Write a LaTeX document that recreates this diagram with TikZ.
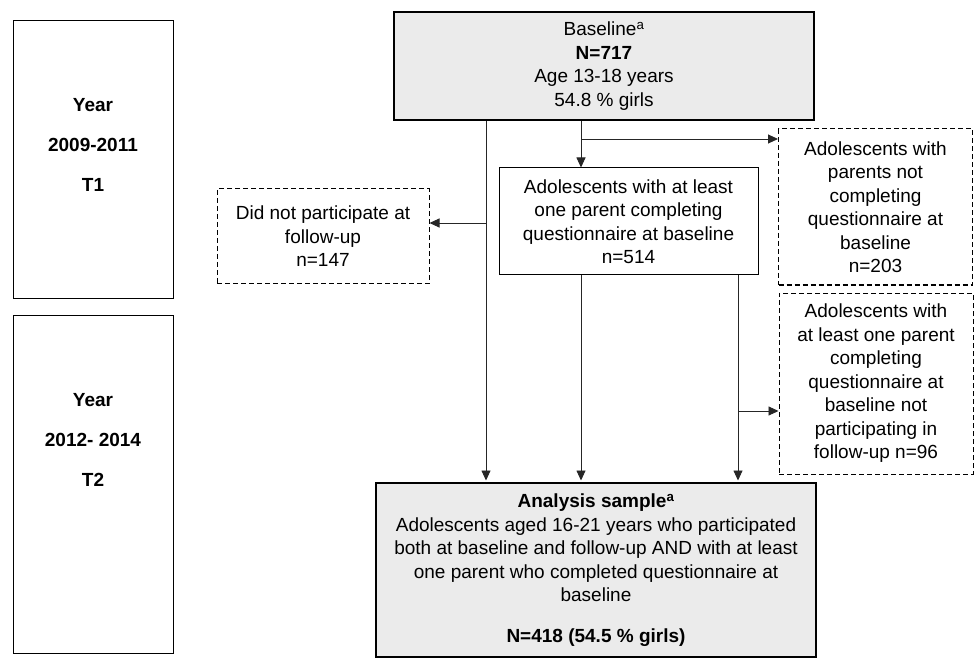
\documentclass[tikz,border=0pt]{standalone}
\usepackage{fontspec}
\setmainfont{Liberation Sans}
\usetikzlibrary{arrows.meta,positioning}
\definecolor{boxgray}{HTML}{EBEBEB}
\tikzset{
  every node/.style={font=\fontsize{19}{23.5}\selectfont, align=center, inner sep=0pt},
  mainbox/.style={draw, line width=2.5pt, fill=boxgray},
  subbox/.style={draw, line width=1pt},
  exclbox/.style={draw, line width=1pt, dash pattern=on 5pt off 3pt},
  yearbox/.style={draw, line width=1pt, minimum width=160pt},
  yeartext/.style={font=\fontsize{19}{40}\selectfont\bfseries},
  flow/.style={line width=0.9pt, draw=black!85}
}
\begin{document}
\begin{tikzpicture}[x=1pt, y=-1pt, >={Triangle[length=10pt,width=9pt]}]
\useasboundingbox (0,0) rectangle (974,660);
% time frames
\node[yearbox, minimum height=277pt] (yr1) at (93,159.5) {};
\node[yeartext] (yr1txt) at (93,145) {Year\\2009-2011\\T1};
\node[yearbox, minimum height=338pt] (yr2) at (93,484) {};
\node[yeartext] (yr2txt) at (93,440) {Year\\2012- 2014\\T2};
% flow boxes
\node[mainbox, minimum width=420pt, minimum height=108pt] (base) at (604,66)
  {Baseline\textsuperscript{a}\\\textbf{N=717}\\Age 13-18 years\\54.8 \% girls};
\node[subbox, minimum width=259pt, minimum height=107pt] (par) at (628.5,221.5)
  {Adolescents with at least\\one parent completing\\questionnaire at baseline\\n=514};
\node[exclbox, minimum width=212pt, minimum height=95pt] (dnp) at (323,236.5)
  {Did not participate at\\follow-up\\n=147};
\node[exclbox, minimum width=194pt, minimum height=156pt] (nopar) at (875.5,207)
  {Adolescents with\\parents not\\completing\\questionnaire at\\baseline\\n=203};
\node[exclbox, minimum width=194pt, minimum height=181pt] (nofu) at (876,383.5)
  {Adolescents with\\at least one parent\\completing\\questionnaire at\\baseline not\\participating in\\follow-up n=96};
\node[mainbox, minimum width=440pt, minimum height=174pt] (ana) at (596,570)
  {\textbf{Analysis sample\textsuperscript{a}}\\Adolescents aged 16-21 years who participated\\both at baseline and follow-up AND with at least\\one parent who completed questionnaire at\\baseline\\[17pt]\textbf{N=418 (54.5 \% girls)}};
% connectors
\coordinate (xl) at (486,0);
\coordinate (xm) at (581,0);
\coordinate (xr) at (738,0);
\coordinate (j1) at (486,223);
\coordinate (j2) at (581,139);
\coordinate (j3) at (738,411);
\draw[flow,->,shorten >=1.25pt] (base.south -| xl) -- (ana.north -| xl);
\draw[flow,->] (j1) -- (j1 -| dnp.east);
\draw[flow,->] (base.south -| xm) -- (par.north -| xm);
\draw[flow,->] (j2) -- (j2 -| nopar.west);
\draw[flow,->,shorten >=1.25pt] (par.south -| xm) -- (ana.north -| xm);
\draw[flow,->,shorten >=1.25pt] (par.south -| xr) -- (ana.north -| xr);
\draw[flow,->] (j3) -- (j3 -| nofu.west);
\end{tikzpicture}
\end{document}
